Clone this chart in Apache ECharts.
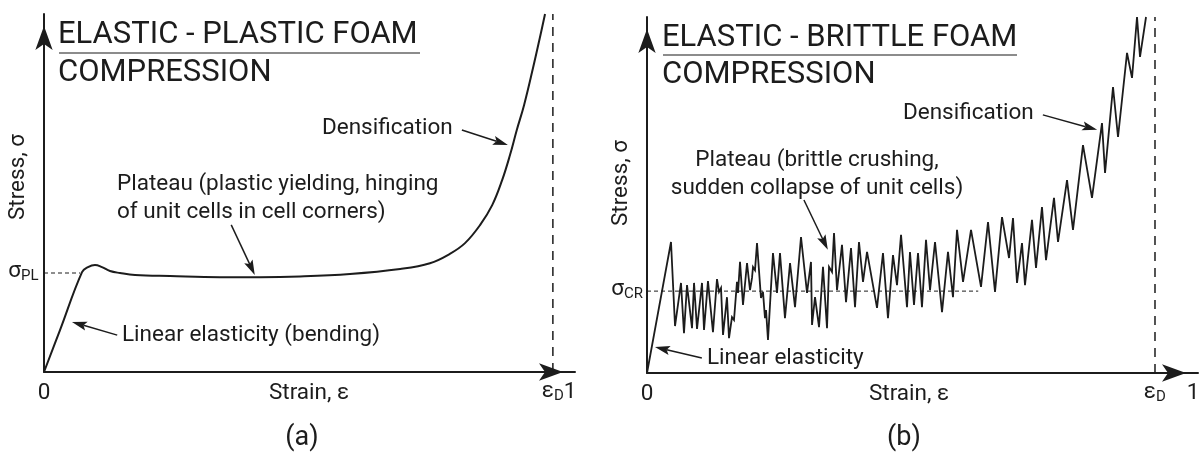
<!DOCTYPE html>
<html>
<head>
<meta charset="utf-8">
<script src="https://cdn.jsdelivr.net/npm/echarts@6/dist/echarts.min.js"></script>
<style>html,body{margin:0;padding:0;background:#fff}#c{width:1203px;height:455px}</style>
</head>
<body>
<div id="c"></div>
<script>
// Strain in % of full strain (0..100 -> 0..1); stress in arbitrary units (100 = top of axis)
const plasticStrain = [0, 3.06, 7.27, 8.41, 9.75, 11.09, 12.62, 14.53, 17.4, 24.1, 33.65, 41.3, 48.95, 58.5, 68.1, 73.8, 77.6, 80.5, 83.4, 85.7, 87.6, 89.1, 90.4, 91.8, 93.5, 94.8, 95.8];
const plasticStress = [0, 11.7, 27.9, 29.3, 29.9, 29.3, 28.2, 27.65, 27.1, 26.8, 26.5, 26.5, 26.7, 27.4, 28.8, 30.4, 33.0, 36.0, 41.1, 46.6, 53.6, 60.6, 67.6, 74.6, 84.9, 93.3, 100];

const brittleStrain = [0,4.42,5.16,6.26,6.81,7.37,8.29,8.66,9.21,10.13,
  10.50,11.23,12.15,12.89,13.26,13.63,14.00,14.73,15.10,15.65,
  16.02,16.57,16.76,17.13,17.68,18.42,18.97,19.34,19.52,19.89,
  20.26,20.99,21.36,21.73,21.92,22.28,23.20,23.94,24.49,25.41,
  26.34,27.26,28.36,29.47,30.20,30.39,30.94,31.68,32.41,33.15,
  33.52,34.07,34.44,34.99,35.91,36.65,37.57,38.31,39.04,39.78,
  40.52,42.36,43.46,44.38,45.30,46.04,46.78,47.88,48.43,49.17,
  49.91,50.64,51.38,52.12,53.04,54.33,55.43,56.35,57.09,58.20,
  59.67,61.51,62.80,64.09,65.38,66.67,67.40,68.14,69.06,69.61,
  70.90,71.64,72.74,73.48,74.95,75.69,77.35,78.45,80.29,81.95,
  83.79,84.35,85.82,86.74,88.40,89.32,90.24,90.79,91.90];
const brittleStress = [0,36.8,13.2,25.3,11.2,24.7,12.6,25.3,12.4,25.3,
  12.1,25.8,11.5,26.4,22.8,23.9,10.7,21.3,9.8,15.7,
  14.9,25.6,22.5,31.2,19.1,30.9,23.3,26.7,29.8,28.9,
  36.5,21.1,22.8,15.4,17.7,9.3,33.7,22.5,33.7,15.4,
  30.9,18.5,38.2,22.5,31.2,13.5,21.3,12.9,29.8,12.6,
  29.8,28.4,39.3,23.3,36.0,19.9,35.1,18.5,36.8,25.6,
  34.0,18.3,33.7,15.4,33.1,24.7,38.8,18.5,34.0,19.1,
  33.7,18.5,37.4,23.3,36.8,17.1,34.0,21.3,40.2,25.6,
  40.2,24.2,42.4,22.8,43.8,32.3,43.5,25.3,36.5,24.7,
  43.0,29.5,46.6,31.7,49.2,36.8,54.2,40.2,64.0,49.2,
  70.2,56.2,80.3,66.3,89.9,82.9,100,88.8,100];

const strainTicks = ['0', 'ε', '1'];        // 'ε' gets subscript D
const epsD = [97.3, 93.55];                   // densification strain (a), (b)
const sigmaLevels = [27.65, 23.0];           // σPL, σCR
const sigmaLineEnd = [6.9, 61.0];            // extent of the dashed level lines
const sigmaSubs = ['PL', 'CR'];
const titles = [['ELASTIC - PLASTIC FOAM', 'COMPRESSION'], ['ELASTIC - BRITTLE FOAM', 'COMPRESSION']];
const panelLabels = ['(a)', '(b)'];
const arrowsA = [[[79.9, 67.6], [88.7, 63.4]], [[35.8, 41.1], [40.3, 27.1]], [[14.0, 10.3], [5.35, 14.0]]];
const arrowsB = [[[72.9, 72.5], [82.9, 68.3]], [[28.9, 48.6], [33.3, 34.6]], [[10.1, 4.2], [1.47, 7.3]]];

const ink = '#1c1c1c';
const FONT = 'Roboto';
const xMax = [101.53, 101.47];

const chart = echarts.init(document.getElementById('c'));

function axis(i, max) {
  return {
    type: 'value', gridIndex: i, min: 0, max: max,
    axisLine: { show: true, onZero: false, symbol: ['none', 'arrow'], symbolSize: [13, 24], symbolOffset: [0, -12],
      lineStyle: { color: ink, width: 2 } },
    axisTick: { show: false }, axisLabel: { show: false }, splitLine: { show: false }
  };
}
function ser(i, data, extra) {
  return Object.assign({ type: 'line', xAxisIndex: i, yAxisIndex: i, data: data, symbol: 'none',
    silent: true, clip: false, animation: false }, extra);
}
const pa = plasticStrain.map((x, k) => [x, plasticStress[k]]);
const pb = brittleStrain.map((x, k) => [x, brittleStress[k]]);

const series = [];
[0, 1].forEach(i => {
  series.push(ser(i, [[0, sigmaLevels[i]], [sigmaLineEnd[i], sigmaLevels[i]]], { z: 1, lineStyle: { color: ink, width: 1, type: [4, 3] } }));
  series.push(ser(i, [[epsD[i], 0], [epsD[i], 100]], { z: 1, lineStyle: { color: ink, width: 1.5, type: [9, 7] } }));
});
series.push(ser(0, pa, { z: 3, smooth: 0.4, lineStyle: { color: ink, width: 2 } }));
series.push(ser(1, pb, { z: 3, lineStyle: { color: ink, width: 1.8, join: 'miter', miterLimit: 4 } }));

chart.setOption({
  animation: false,
  backgroundColor: '#fff',
  grid: [{ left: 44, top: 14, width: 531, height: 358 }, { left: 647, top: 17, width: 551, height: 356 }],
  xAxis: [axis(0, xMax[0]), axis(1, xMax[1])],
  yAxis: [axis(0, 100), axis(1, 100)],
  series: series
});

function txt(text, x, y, size, align, extra) {
  return Object.assign({ type: 'text', x: x, y: y, silent: true, z: 10,
    style: { text: text, fontSize: size, fontFamily: FONT, fill: ink, align: align || 'left', verticalAlign: 'middle' } }, extra || {});
}
function arrow(i, tail, tip) {
  const p0 = chart.convertToPixel({ gridIndex: i }, tail);
  const p1 = chart.convertToPixel({ gridIndex: i }, tip);
  const dx = p1[0] - p0[0], dy = p1[1] - p0[1];
  const len = Math.hypot(dx, dy), ux = dx / len, uy = dy / len;
  const L = 15, W = 4.6;
  const bx = p1[0] - ux * L, by = p1[1] - uy * L;
  const nx = p1[0] - ux * L * 0.8, ny = p1[1] - uy * L * 0.8;
  return [
    { type: 'line', silent: true, z: 10, shape: { x1: p0[0], y1: p0[1], x2: nx, y2: ny }, style: { stroke: ink, lineWidth: 1.5 } },
    { type: 'polygon', silent: true, z: 10, shape: { points: [[p1[0], p1[1]], [bx - uy * W, by + ux * W], [nx, ny], [bx + uy * W, by - ux * W]] }, style: { fill: ink } }
  ];
}

const g = [];
// titles
const titlePos = [[58, 35, 53, 420, 73], [662, 38, 55, 1017, 75]];
[0, 1].forEach(i => {
  const t = titlePos[i];
  g.push(txt(titles[i][0], t[0], t[1], 31));
  g.push({ type: 'line', silent: true, z: 10, shape: { x1: t[0] + 1, y1: t[2], x2: t[3], y2: t[2] }, style: { stroke: '#8c8c8c', lineWidth: 2 } });
  g.push(txt(titles[i][1], t[0], t[4], 31));
});
// annotations
g.push(txt('Densification', 322, 128, 22.5));
g.push(txt('Plateau (plastic yielding, hinging', 117, 184, 22.5));
g.push(txt('of unit cells in cell corners)', 117, 212, 22.5));
g.push(txt('Linear elasticity (bending)', 122, 335, 22.5));
g.push(txt('Densification', 903, 113, 22.5));
g.push(txt('Plateau (brittle crushing,', 817, 160, 22.5, 'center'));
g.push(txt('sudden collapse of unit cells)', 817, 188, 22.5, 'center'));
g.push(txt('Linear elasticity', 707, 358, 22.5));
arrowsA.forEach(a => g.push(...arrow(0, a[0], a[1])));
arrowsB.forEach(a => g.push(...arrow(1, a[0], a[1])));
// axis titles / ticks
const stressY = [177, 183];
const strainNameX = [309, 909];
const panelX = [302, 904];
[0, 1].forEach(i => {
  const o = chart.convertToPixel({ gridIndex: i }, [0, 0]);
  const yAxisX = o[0], xAxisY = o[1];
  g.push(txt('Stress, σ', yAxisX - 26, stressY[i], 22.5, 'center', { rotation: Math.PI / 2 }));
  g.push(txt('Strain, ε', strainNameX[i], xAxisY + 21, 22.5, 'center'));
  g.push(txt(panelLabels[i], panelX[i], 438, 27, 'center'));
  // tick labels
  g.push(txt(strainTicks[0], yAxisX, xAxisY + 21, 22.5, 'center'));
  const pD = chart.convertToPixel({ gridIndex: i }, [epsD[i], 0]);
  g.push(txt(strainTicks[1], pD[0] + 1, xAxisY + 19, 22.5, 'right'));
  g.push(txt('D', pD[0] + 1, xAxisY + 24, 15, 'left'));
  const p1 = chart.convertToPixel({ gridIndex: i }, [100, 0]);
  g.push(txt(strainTicks[2], p1[0] + 3, xAxisY + 20, 22.5, 'center'));
  // sigma level labels
  const pS = chart.convertToPixel({ gridIndex: i }, [0, sigmaLevels[i]]);
  g.push(txt('σ', pS[0] - 23, pS[1] - 2, 22.5, 'right'));
  g.push(txt(sigmaSubs[i], pS[0] - 23, pS[1] + 3, 15, 'left'));
});
chart.setOption({ graphic: { elements: g } });
</script>
</body>
</html>
